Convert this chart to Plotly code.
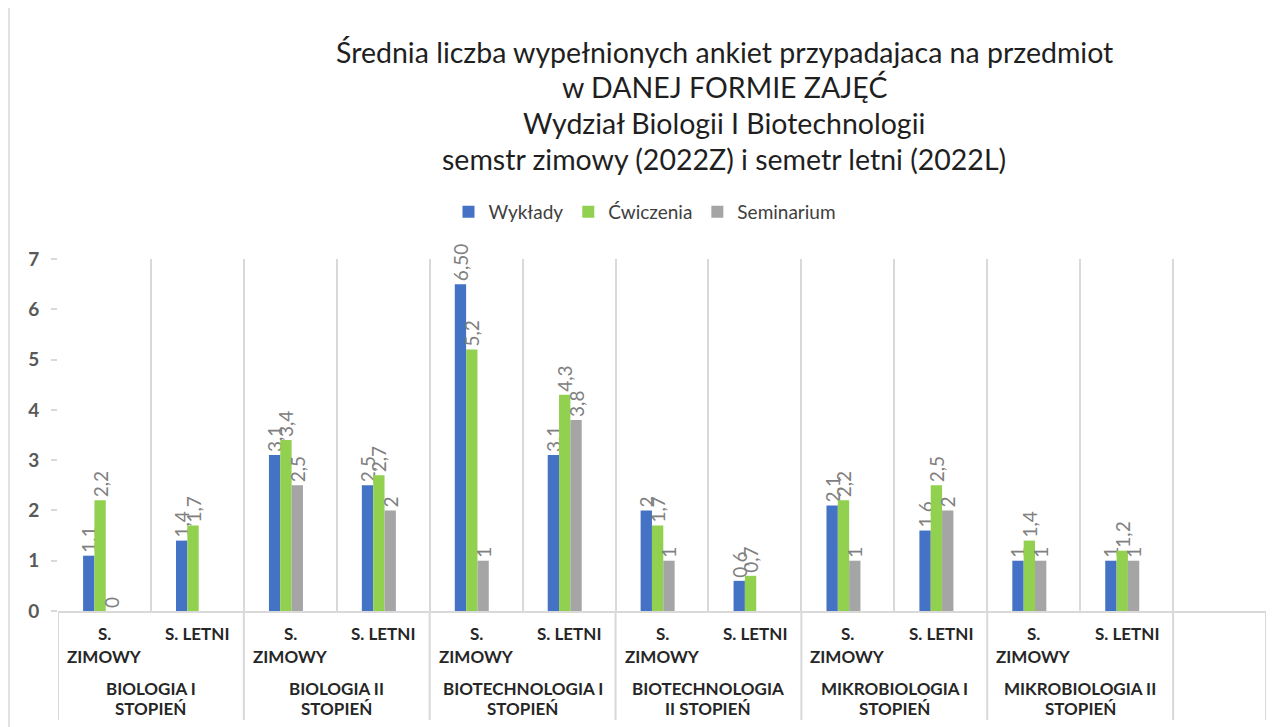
import plotly.graph_objects as go

# ---- data ----
groups = ["BIOLOGIA I<br>STOPIEŃ", "BIOLOGIA II<br>STOPIEŃ", "BIOTECHNOLOGIA I<br>STOPIEŃ",
          "BIOTECHNOLOGIA<br>II STOPIEŃ", "MIKROBIOLOGIA I<br>STOPIEŃ", "MIKROBIOLOGIA II<br>STOPIEŃ"]
semesters = ["S.<br>ZIMOWY", "S. LETNI"]

wyklady = [1.1, 1.4, 3.1, 2.5, 6.5, 3.1, 2, 0.6, 2.1, 1.6, 1, 1]
wyklady_labels = ["1,1", "1,4", "3,1", "2,5", "6,50", "3,1", "2", "0,6", "2,1", "1,6", "1", "1"]
cwiczenia = [2.2, 1.7, 3.4, 2.7, 5.2, 4.3, 1.7, 0.7, 2.2, 2.5, 1.4, 1.2]
seminarium = [0, None, 2.5, 2, 1, 3.8, 1, None, 1, 2, 1, 1]

series_names = ["Wykłady", "Ćwiczenia", "Seminarium"]
colors = ["#4472C4", "#92D050", "#A5A5A5"]

n_slots = len(groups) * len(semesters) + 1  # one empty slot at the end
x = list(range(len(wyklady)))


def fmt(v):
    if v is None:
        return None
    return f"{v:g}".replace(".", ",")


fig = go.Figure()
offsets = [-0.23, -0.108, 0.014]
bw = 0.122
for name, vals, labels, col, off in [
    (series_names[0], wyklady, wyklady_labels, colors[0], offsets[0]),
    (series_names[1], cwiczenia, [fmt(v) for v in cwiczenia], colors[1], offsets[1]),
    (series_names[2], seminarium, [fmt(v) for v in seminarium], colors[2], offsets[2]),
]:
    fig.add_trace(go.Bar(
        x=x, y=vals, name=name, marker_color=col, marker_line_width=0,
        width=bw, offset=off,
        text=[l if v is not None else "" for l, v in zip(labels, vals)],
        textposition="outside", textangle=-90, constraintext="none",
        cliponaxis=False,
        textfont=dict(family="Lato", size=19, color="#808080"),
    ))

grid_col = "#D9D9D9"
H_TOP, H_BOT = 259, 611   # page pixel rows of plot top / bottom
ph = H_BOT - H_TOP
PAGE_OFF = 8              # browser body margin
W, H = 1282 - PAGE_OFF, 727 - PAGE_OFF
L_PX, R_PX = 58, 1266


def py(ypx):
    return (H_BOT - ypx) / ph


def px(xpx):
    return (xpx - L_PX) / (R_PX - L_PX)


annotations = []
title_lines = ["Średnia liczba wypełnionych ankiet przypadajaca na przedmiot",
               "w DANEJ FORMIE ZAJĘĆ",
               "Wydział Biologii I Biotechnologii",
               "semstr zimowy (2022Z) i semetr letni (2022L)"]
for i, t in enumerate(title_lines):
    annotations.append(dict(text=t, xref="paper", yref="paper", x=px(724), y=py(52 + i * 35.5),
                            xanchor="center", yanchor="middle", showarrow=False,
                            font=dict(family="Lato", size=28.5, color="#1F1F1F")))

for gi, g in enumerate(groups):
    for si, s in enumerate(semesters):
        xi = gi * len(semesters) + si
        for li, line in enumerate(s.split("<br>")):
            annotations.append(dict(text=line, xref="x", yref="paper", x=xi, y=py(633 + li * 23),
                                    xanchor="center", yanchor="middle", showarrow=False,
                                    font=dict(family="Lato", size=17, color="#262626", weight="bold")))
    gx = gi * len(semesters) + (len(semesters) - 1) / 2
    for li, line in enumerate(g.split("<br>")):
        annotations.append(dict(text=line, xref="x", yref="paper", x=gx, y=py(688 + li * 20),
                                xanchor="center", yanchor="middle", showarrow=False,
                                font=dict(family="Lato", size=17, color="#262626", weight="bold")))

shapes = []
for k in range(len(groups) + 1):
    xb = k * len(semesters) - 0.5
    shapes.append(dict(type="line", xref="x", yref="paper", x0=xb, x1=xb, y0=0, y1=py(720),
                       line=dict(color=grid_col, width=2)))
shapes.append(dict(type="line", xref="x", yref="paper", x0=n_slots - 0.5, x1=n_slots - 0.5,
                   y0=0, y1=py(720), line=dict(color=grid_col, width=2)))
shapes.append(dict(type="line", xref="paper", yref="paper", x0=px(9), x1=px(9),
                   y0=py(727), y1=py(0), line=dict(color=grid_col, width=1.5)))

fig.update_layout(
    width=W, height=H,
    margin=dict(l=L_PX - PAGE_OFF, r=W - (R_PX - PAGE_OFF), t=H_TOP - PAGE_OFF, b=H - (H_BOT - PAGE_OFF)),
    paper_bgcolor="white", plot_bgcolor="white",
    barmode="group",
    showlegend=True,
    legend=dict(orientation="h", x=px(645), y=py(212), xanchor="center", yanchor="middle",
                font=dict(family="Lato", size=19, color="#404040"),
                itemwidth=30, traceorder="normal"),
    annotations=annotations,
    shapes=shapes,
    xaxis=dict(range=[-0.5, n_slots - 0.5], tickmode="array",
               tickvals=[k - 0.5 for k in range(n_slots + 1)],
               showticklabels=False, showgrid=True, gridcolor=grid_col, gridwidth=2,
               showline=True, linecolor=grid_col, linewidth=2, zeroline=False, ticks=""),
    yaxis=dict(range=[0, 7], dtick=1, showgrid=False, zeroline=False,
               showline=False, ticks="outside", ticklen=6, tickcolor=grid_col, tickwidth=2,
               ticklabelstandoff=8,
               tickfont=dict(family="Lato", size=19, color="#595959", weight="bold")),
)

fig.write_html("out.html")
